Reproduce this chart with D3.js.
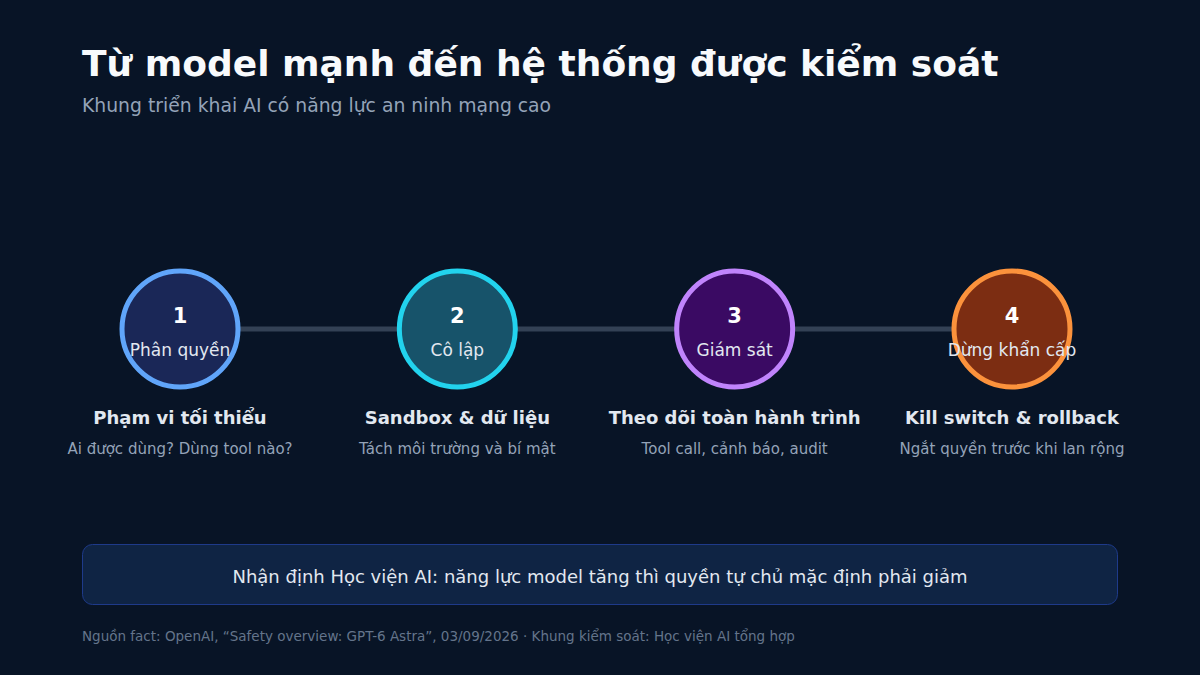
<!DOCTYPE html>
<html><head><meta charset="utf-8">
<script src="https://cdn.jsdelivr.net/npm/d3@7/dist/d3.min.js"></script>
<style>body{margin:0;background:#081426}svg{display:block;font-family:"DejaVu Sans",sans-serif}</style>
</head><body><svg id="c" width="1200" height="675"></svg>
<script>
const steps = ["1","2","3","4"];
const labels = ["Phân quyền","Cô lập","Giám sát","Dừng khẩn cấp"];
const titles = ["Phạm vi tối thiểu","Sandbox & dữ liệu","Theo dõi toàn hành trình","Kill switch & rollback"];
const descs = ["Ai được dùng? Dùng tool nào?","Tách môi trường và bí mật","Tool call, cảnh báo, audit","Ngắt quyền trước khi lan rộng"];
const fills = ["#1a2757","#17536a","#3a0a63","#7c2d12"];
const strokes = ["#60a5fa","#22d3ee","#c084fc","#fb923c"];

const svg = d3.select("#c");
svg.append("rect").attr("width",1200).attr("height",675).attr("fill","#081426");
svg.append("text").attr("x",82).attr("y",76).attr("fill","#f8fafc").attr("font-size",36).attr("font-weight","bold").text("Từ model mạnh đến hệ thống được kiểm soát");
svg.append("text").attr("x",82).attr("y",112).attr("fill","#94a3b8").attr("font-size",18.8).text("Khung triển khai AI có năng lực an ninh mạng cao");

const x = d3.scalePoint().domain(steps).range([180,1012]);
const cy = 329;
svg.append("line").attr("x1",x("1")).attr("x2",x("4")).attr("y1",cy).attr("y2",cy).attr("stroke","#334155").attr("stroke-width",5);
const g = svg.selectAll("g.s").data(steps).join("g").attr("transform",d=>`translate(${x(d)},0)`);
g.append("circle").attr("cy",cy).attr("r",58).attr("fill",(d,i)=>fills[i]).attr("stroke",(d,i)=>strokes[i]).attr("stroke-width",5);
g.append("text").attr("y",323).attr("text-anchor","middle").attr("fill","#fff").attr("font-size",21).attr("font-weight","bold").text(d=>d);
g.append("text").attr("y",356).attr("text-anchor","middle").attr("fill","#e2e8f0").attr("font-size",17).text((d,i)=>labels[i]);
g.append("text").attr("y",424).attr("text-anchor","middle").attr("fill","#e2e8f0").attr("font-size",18).attr("font-weight","bold").text((d,i)=>titles[i]);
g.append("text").attr("y",454).attr("text-anchor","middle").attr("fill","#94a3b8").attr("font-size",15).text((d,i)=>descs[i]);

svg.append("rect").attr("x",82.5).attr("y",544.5).attr("width",1035).attr("height",60).attr("rx",10).attr("fill","#0f2444").attr("stroke","#1e3a8a").attr("stroke-width",1);
svg.append("text").attr("x",600).attr("y",583).attr("text-anchor","middle").attr("fill","#e2e8f0").attr("font-size",18).text("Nhận định Học viện AI: năng lực model tăng thì quyền tự chủ mặc định phải giảm");
svg.append("text").attr("x",82).attr("y",641).attr("fill","#64748b").attr("font-size",13.5).text("Nguồn fact: OpenAI, “Safety overview: GPT-6 Astra”, 03/09/2026 · Khung kiểm soát: Học viện AI tổng hợp");
</script></body></html>
